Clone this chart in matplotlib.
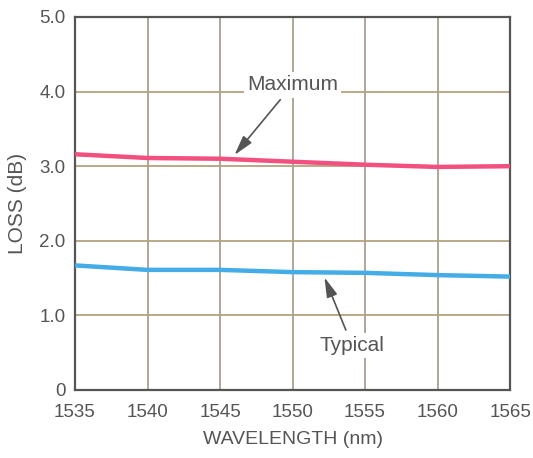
import matplotlib
matplotlib.use("Agg")
import matplotlib.pyplot as plt

wavelength = [1535, 1540, 1545, 1550, 1555, 1560, 1565]
loss_maximum = [3.16, 3.11, 3.10, 3.06, 3.02, 2.99, 3.00]
loss_typical = [1.67, 1.61, 1.61, 1.58, 1.57, 1.54, 1.52]
x_ticks = [1535, 1540, 1545, 1550, 1555, 1560, 1565]
y_ticks = [0, 1, 2, 3, 4, 5]
y_tick_labels = ["0", "1.0", "2.0", "3.0", "4.0", "5.0"]

plt.rcParams['font.family'] = ['Liberation Sans', 'DejaVu Sans']

fig = plt.figure(figsize=(5.33, 4.58), dpi=100)
ax = fig.add_axes([0.1407, 0.1485, 0.8163, 0.8144])

ax.plot(wavelength, loss_maximum, color='#f2507e', lw=3.2, solid_capstyle='butt', zorder=3)
ax.plot(wavelength, loss_typical, color='#44ace6', lw=3.2, solid_capstyle='butt', zorder=3)

ax.set_xlim(1535, 1565)
ax.set_ylim(0, 5)
ax.set_xticks(x_ticks)
ax.set_yticks(y_ticks)
ax.set_yticklabels(y_tick_labels)
ax.xaxis.grid(True, color='#a8a090', lw=1.3)
ax.yaxis.grid(True, color='#b3a27e', lw=1.3)
ax.set_axisbelow(True)
for s in ax.spines.values():
    s.set_color('#555555')
    s.set_linewidth(1.6)
ax.tick_params(length=0, labelsize=13.5, colors='#555555')
ax.tick_params(axis='x', pad=10)
ax.tick_params(axis='y', pad=7)
ax.set_xlabel('WAVELENGTH (nm)', fontsize=14, color='#555555', labelpad=7)
ax.set_ylabel('LOSS (dB)', fontsize=15, color='#555555', labelpad=9)

ax.annotate('Maximum', xy=(1546.0, 3.15), xytext=(1550.0, 4.09),
            fontsize=15, color='#555555', ha='center', va='center',
            bbox=dict(boxstyle='square,pad=0.15', fc='white', ec='none'),
            arrowprops=dict(arrowstyle='-|>,head_length=0.8,head_width=0.22',
                            color='#555555', lw=1.2, shrinkA=2, shrinkB=0), zorder=4)
ax.annotate('Typical', xy=(1552.2, 1.51), xytext=(1554.1, 0.6),
            fontsize=15, color='#555555', ha='center', va='center',
            bbox=dict(boxstyle='square,pad=0.15', fc='white', ec='none'),
            arrowprops=dict(arrowstyle='-|>,head_length=0.8,head_width=0.22',
                            color='#555555', lw=1.2, shrinkA=2, shrinkB=0), zorder=4)

fig.savefig('out.png', dpi=100)
